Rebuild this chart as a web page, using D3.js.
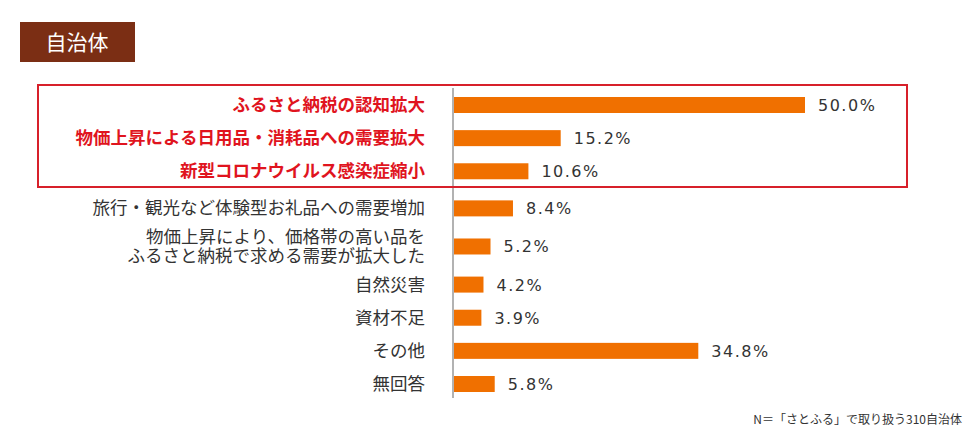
<!DOCTYPE html>
<html><head><meta charset="utf-8">
<script src="https://cdn.jsdelivr.net/npm/d3@7"></script>
<style>body{margin:0;background:#fff;font-family:"Noto Sans CJK JP","Noto Sans",sans-serif}</style>
</head><body><svg id="c" width="980" height="440"></svg>
<script>
var categories = [
  ["ふるさと納税の認知拡大"],
  ["物価上昇による日用品・消耗品への需要拡大"],
  ["新型コロナウイルス感染症縮小"],
  ["旅行・観光など体験型お礼品への需要増加"],
  ["物価上昇により、価格帯の高い品を", "ふるさと納税で求める需要が拡大した"],
  ["自然災害"],
  ["資材不足"],
  ["その他"],
  ["無回答"]
];
var values = [50.0, 15.2, 10.6, 8.4, 5.2, 4.2, 3.9, 34.8, 5.8];
var highlighted = [true, true, true, false, false, false, false, false, false];

var svg = d3.select("#c");
var x = d3.scaleLinear().domain([0, 50]).range([453, 804]);
// row slots: the two-line row gets a bit more room, the boxed group a small gap after it
var slots = [];
var acc = 0;
categories.forEach(function (c, i) {
  if (i === 3) acc += 0.12;
  if (i === 4) acc += 0.15;
  if (i === 5) acc += 0.15;
  slots.push(acc);
  acc += 1;
});
var y = d3.scaleLinear().domain([0, slots[slots.length - 1]]).range([105, 384]);
var barH = 16;

svg.append("rect").attr("x", 20).attr("y", 22).attr("width", 115).attr("height", 40).attr("fill", "#7b2e14");
svg.append("text").attr("x", 77).attr("y", 50).attr("text-anchor", "middle").attr("fill", "#fff")
  .attr("font-size", 21).text("自治体");

svg.append("line").attr("x1", 453).attr("x2", 453).attr("y1", 88).attr("y2", 398)
  .attr("stroke", "#999").attr("stroke-width", 1.5);

var row = svg.selectAll(".row").data(values).enter().append("g");
row.append("rect")
  .attr("x", x(0) + 1).attr("y", function (d, i) { return y(slots[i]) - barH / 2; })
  .attr("width", function (d) { return x(d) - x(0); }).attr("height", barH)
  .attr("fill", "#f07000");
row.append("text")
  .attr("x", function (d) { return x(d) + 14; })
  .attr("y", function (d, i) { return y(slots[i]) + 6; })
  .attr("font-family", "DejaVu Sans, sans-serif").attr("font-size", 16).attr("fill", "#333")
  .attr("letter-spacing", 1.5).text(function (d) { return d.toFixed(1) + "%"; });

row.each(function (d, i) {
  var lines = categories[i];
  var cy = y(slots[i]);
  var t = d3.select(this).append("text").attr("text-anchor", "end")
    .attr("font-size", 17.5)
    .attr("fill", highlighted[i] ? "#e0141e" : "#333")
    .attr("font-weight", highlighted[i] ? "bold" : "normal");
  lines.forEach(function (l, k) {
    t.append("tspan").attr("x", 425)
      .attr("y", cy + 6 + (k - (lines.length - 1) / 2) * 19).text(l);
  });
});

svg.append("rect").attr("x", 38).attr("y", 85).attr("width", 869).attr("height", 102)
  .attr("fill", "none").attr("stroke", "#d7202a").attr("stroke-width", 2);

svg.append("text").attr("x", 962).attr("y", 424).attr("text-anchor", "end")
  .attr("font-size", 12).attr("fill", "#333").text("N＝「さとふる」で取り扱う310自治体");
</script></body></html>
